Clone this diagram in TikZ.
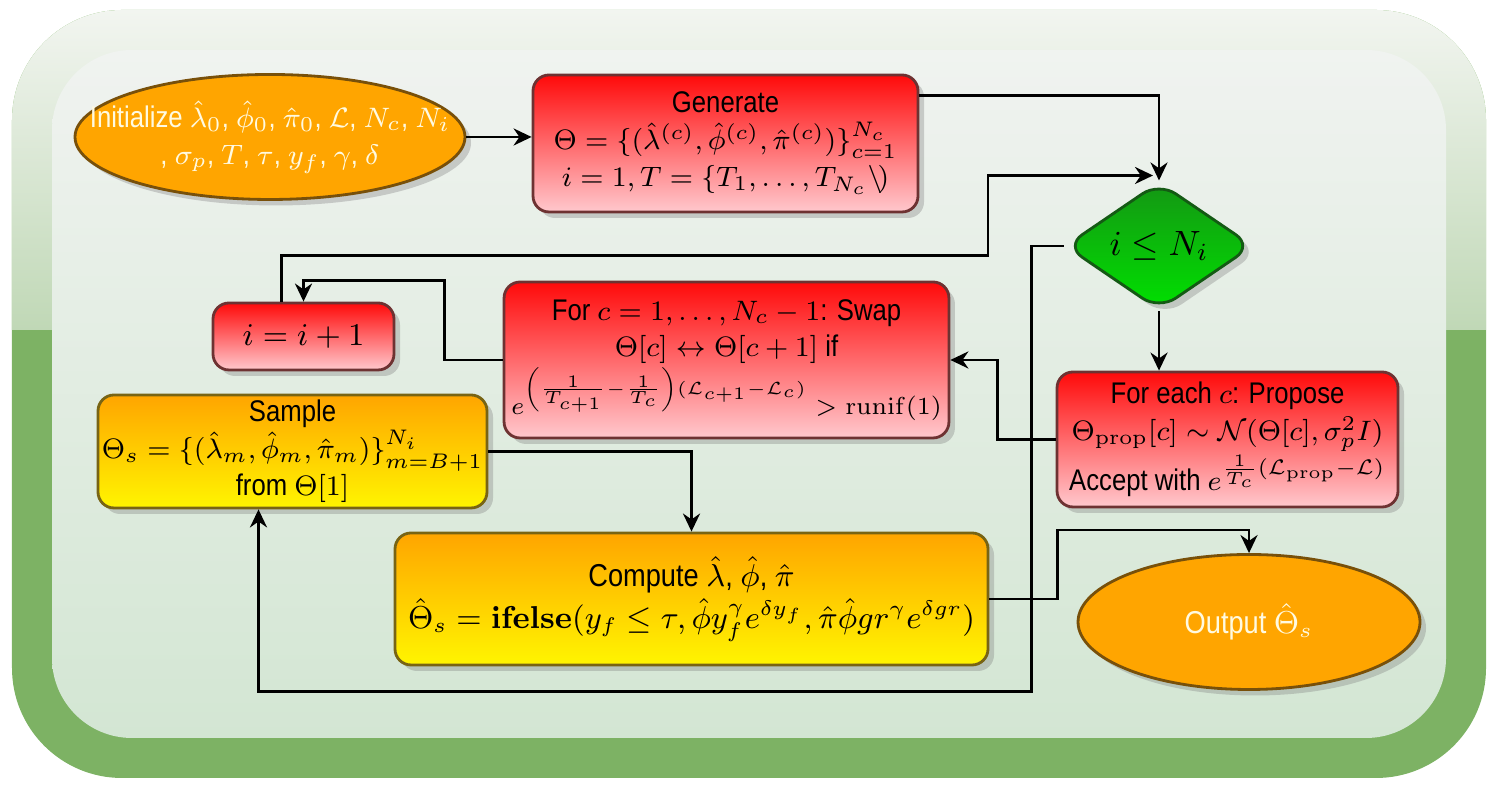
\documentclass[tikz,border=0pt]{standalone}
\usepackage{amsmath,amssymb}
\usepackage[no-math]{fontspec}
\setmainfont[FakeStretch=0.86]{Liberation Sans}
\usetikzlibrary{arrows.meta,positioning,shapes.geometric,shadows,calc}
\definecolor{orgCol}{RGB}{255,165,0}
\definecolor{orgEdge}{RGB}{120,80,10}
\definecolor{ovalText}{RGB}{255,250,225}
\definecolor{redTop}{RGB}{255,10,10}
\definecolor{redBot}{RGB}{255,200,205}
\definecolor{redEdge}{RGB}{110,50,50}
\definecolor{ylwTop}{RGB}{255,165,0}
\definecolor{ylwBot}{RGB}{255,245,0}
\definecolor{ylwEdge}{RGB}{120,100,20}
\definecolor{grnTop}{RGB}{20,150,20}
\definecolor{grnBot}{RGB}{0,225,0}
\definecolor{grnEdge}{RGB}{20,90,20}
\definecolor{frameCol}{RGB}{125,178,100}
\definecolor{glossTop}{RGB}{242,245,240}
\definecolor{glossBot}{RGB}{192,216,182}
\definecolor{panelTop}{RGB}{240,243,240}
\definecolor{panelBot}{RGB}{211,230,211}
\newcommand{\boxfont}{\fontsize{8.5}{10.5}\selectfont}
\tikzset{
  shad/.style={drop shadow={opacity=0.35,shadow xshift=0.6mm,shadow yshift=-0.6mm}},
  box/.style={draw,rounded corners=1.6mm,thick,align=center,font=\boxfont,
              inner sep=2pt,shad},
  redbox/.style={box,draw=redEdge,top color=redTop,bottom color=redBot},
  ylwbox/.style={box,draw=ylwEdge,top color=ylwTop,bottom color=ylwBot},
  oval/.style={ellipse,draw=orgEdge,thick,fill=orgCol,inner sep=0pt,shad},
  ovaltxt/.style={text=ovalText,align=center,font=\boxfont},
  decide/.style={diamond,draw=grnEdge,thick,rounded corners=2mm,top color=grnTop,
                 bottom color=grnBot,inner sep=0pt,shad},
  flow/.style={-{Stealth[length=1.8mm,width=1.7mm]},thick},
}

\begin{document}
\begin{tikzpicture}
  \useasboundingbox (0,0) rectangle (14.99,7.95);
  % frame
  \fill[frameCol,rounded corners=1.1cm] (0.12,0.17) rectangle (14.86,7.85);
  \begin{scope}
    \clip[rounded corners=1.1cm] (0.12,0.17) rectangle (14.86,7.85);
    \shade[top color=glossTop,bottom color=glossBot] (0.12,4.65) rectangle (14.86,7.85);
  \end{scope}
  \shade[rounded corners=0.8cm,top color=panelTop,bottom color=panelBot]
    (0.52,0.57) rectangle (14.46,7.45);

  % nodes
  \node[oval,minimum width=3.9cm,minimum height=1.25cm,
        label={[ovaltxt]center:Initialize $\hat{\lambda}_0$, $\hat{\phi}_0$, $\hat{\pi}_0$, $\mathcal{L}$, $N_c$, $N_i$\\
        , $\sigma_p$, $T$, $\tau$, $y_f$, $\gamma$, $\delta$}] (init) at (2.70,6.58) {};
  \node[redbox,minimum width=3.85cm,minimum height=1.37cm] (gen) at (7.255,6.515)
    {Generate\\
     $\Theta = \{(\hat{\lambda}^{(c)}, \hat{\phi}^{(c)}, \hat{\pi}^{(c)})\}_{c=1}^{N_c}$\\
     $i = 1, T = \{T_1, \ldots, T_{N_c}\backslash\!)$};
  \node[decide,minimum width=1.88cm,minimum height=1.02cm] (dec) at (11.59,5.49) {$i \le N_i$};
  \node[redbox,minimum width=1.81cm,minimum height=0.67cm,font=\small] (inc) at (3.035,4.585) {$i = i + 1$};
  \node[redbox,minimum width=4.33cm,minimum height=1.56cm] (swap) at (7.265,4.35)
    {For $c = 1, \ldots, N_c - 1$: Swap\\
     $\Theta[c] \leftrightarrow \Theta[c+1]$ if\\
     {\fontsize{7.5}{9}\selectfont $e^{\left(\frac{1}{T_{c+1}} - \frac{1}{T_c}\right)(\mathcal{L}_{c+1} - \mathcal{L}_c)} > \mathrm{runif}(1)$}};
  \node[redbox,minimum width=3.41cm,minimum height=1.35cm] (prop) at (12.275,3.555)
    {For each $c$: Propose\\
     $\Theta_{\mathrm{prop}}[c] \sim \mathcal{N}(\Theta[c], \sigma_p^2 I)$\\
     Accept with $e^{\frac{1}{T_c}(\mathcal{L}_{\mathrm{prop}} - \mathcal{L})}$};
  \node[ylwbox,minimum width=3.89cm,minimum height=1.13cm,inner sep=1pt] (sample) at (2.925,3.435)
    {Sample\\
     $\Theta_s = \{(\hat{\lambda}_m, \hat{\phi}_m, \hat{\pi}_m)\}_{m=B+1}^{N_i}$\\
     from $\Theta[1]$};
  \node[ylwbox,minimum width=5.93cm,minimum height=1.32cm,font=\small] (comp) at (6.915,1.96)
    {Compute $\hat{\lambda}$, $\hat{\phi}$, $\hat{\pi}$\\[1pt]
     $\hat{\Theta}_s = \mathbf{ifelse}(y_f \le \tau, \hat{\phi} y_f^{\gamma} e^{\delta y_f},
      \hat{\pi}\hat{\phi} g r^{\gamma} e^{\delta g r})$};
  \node[oval,minimum width=3.42cm,minimum height=1.35cm,
        label={[ovaltxt,font=\small]center:Output $\hat{\Theta}_s$}] (outp) at (12.49,1.73) {};

  % connectors
  \draw[flow] (init.east) -- (init.east -| gen.west);
  \draw[flow] ($(gen.north east)+(0,-0.22)$) -| (dec.north);
  \draw[flow] (dec.south) -- (dec.south |- prop.north);
  \draw[flow] (prop.west) -- ++(-0.58,0) |- (swap.east);
  \draw[flow] (swap.west) -- ++(-0.58,0) |- ($(inc.north)+(0,0.21)$) -- (inc.north);
  \draw[flow] ($(inc.north)+(-0.22,0)$) -- ++(0,0.46) -| ($(dec.north)+(-1.71,0.05)$)
    -- ($(dec.north)+(-0.06,0.05)$);
  \draw[flow] (sample.east) -| (comp.north);
  \draw[flow] (comp.east) -- ++(0.68,0) |- ($(outp.north)+(0,0.23)$) -- (outp.north);
  \draw[flow] (dec.west) -- ++(-0.32,0) |- ($(sample.south)+(-0.34,-1.82)$)
    -- ($(sample.south)+(-0.34,0)$);
\end{tikzpicture}
\end{document}
